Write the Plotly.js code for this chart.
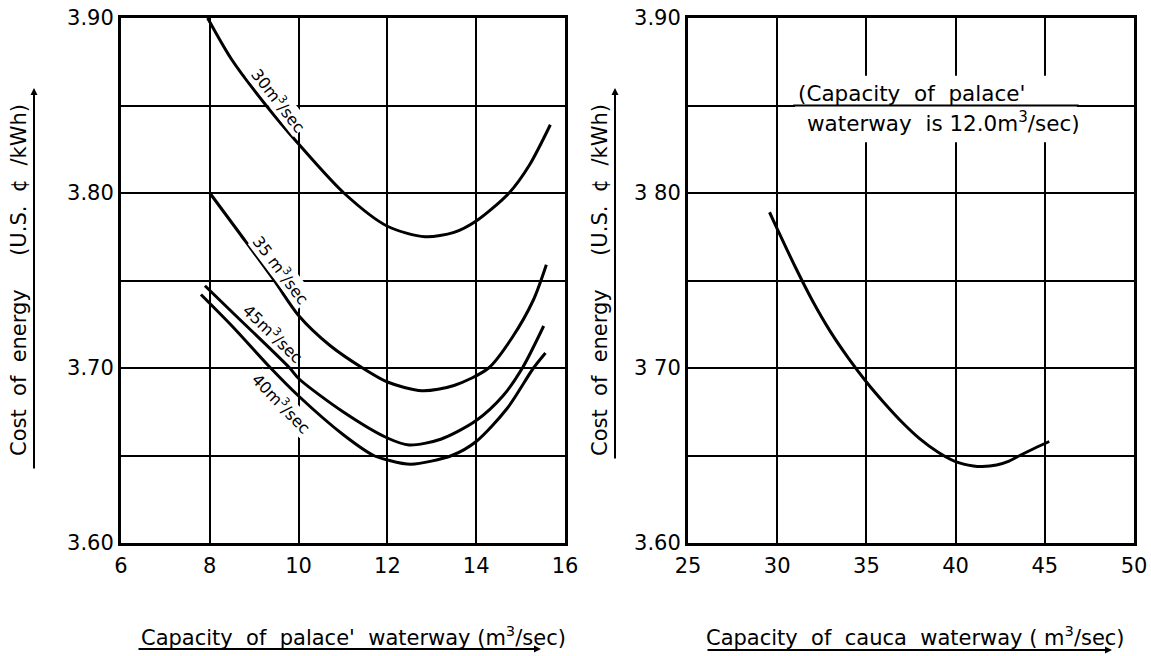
<!DOCTYPE html>
<html>
<head>
<meta charset="utf-8">
<script src="https://cdn.plot.ly/plotly-3.0.1.min.js"></script>
<style>html,body{margin:0;padding:0;background:#fff}#chart{width:1151px;height:656px}</style>
</head>
<body>
<div id="chart"></div>
<script>
// ---- data ----
const q30x = [7.95, 8.5, 9.27, 10, 11.02, 12, 12.85, 13.5, 14, 14.74, 15.2, 15.67];
const q30y = [3.900, 3.876, 3.850, 3.828, 3.800, 3.781, 3.775, 3.7775, 3.784, 3.800, 3.816, 3.839];

const q35x = [8, 8.7, 9.45, 10, 10.7, 11.44, 12, 12.78, 13.5, 14.28, 14.8, 15.29, 15.58];
const q35y = [3.800, 3.776, 3.750, 3.730, 3.713, 3.700, 3.692, 3.687, 3.690, 3.700, 3.717, 3.739, 3.759];

const q45x = [7.89, 8.5, 9.8, 10, 11, 12, 12.49, 13.2, 14, 14.6, 15.04, 15.52];
const q45y = [3.747, 3.732, 3.700, 3.694, 3.675, 3.660, 3.656, 3.6593, 3.670, 3.684, 3.700, 3.724];

const q40x = [7.8, 8.5, 9.37, 10, 11, 11.69, 12, 12.53, 13.45, 14, 14.7, 15.29, 15.56];
const q40y = [3.742, 3.724, 3.700, 3.684, 3.662, 3.650, 3.6475, 3.645, 3.650, 3.658, 3.677, 3.700, 3.7086];

const caucaX = [29.57, 30, 31, 32, 33, 34, 35, 36, 37, 38, 39, 40, 41, 41.5, 42.3, 43, 43.6, 44.4, 45.25];
const caucaY = [3.789, 3.7795, 3.758, 3.738, 3.7205, 3.7055, 3.692, 3.680, 3.669, 3.6595, 3.652, 3.6465, 3.644, 3.6437, 3.6446, 3.6468, 3.650, 3.654, 3.658];

const yTickVals = [3.60, 3.70, 3.80, 3.90];
const yTickTextL = ["3.60", "3.70", "3.80", "3.90"];
const yTickTextR = ["3.60", "3 70", "3 80", "3.90"];
const xTicksL = [6, 8, 10, 12, 14, 16];
const xTicksR = [25, 30, 35, 40, 45, 50];

const curveLabels = [
  {x: 9.55, y: 3.853, text: "30m<sup>3</sup>/sec", angle: 52, bg: true},
  {x: 9.62, y: 3.756, text: "35 m<sup>3</sup>/sec", angle: 53, bg: true},
  {x: 9.42, y: 3.7195, text: "45m<sup>3</sup>/sec", angle: 44, bg: false},
  {x: 9.62, y: 3.680, text: "40m<sup>3</sup>/sec", angle: 46, bg: true}
];

// ---- layout helpers (pixel -> paper) ----
const W = 1151, H = 656;
const px = v => v / W;
const py = v => 1 - v / H;
const FONT = "DejaVu Sans, sans-serif";
const NB = "\u00a0";

const line = {color: "#000", width: 3, shape: "spline", smoothing: 0.8};
const traces = [
  {x: q30x, y: q30y, name: "30 m³/sec", mode: "lines", line: line, xaxis: "x", yaxis: "y"},
  {x: q35x, y: q35y, name: "35 m³/sec", mode: "lines", line: line, xaxis: "x", yaxis: "y"},
  {x: q45x, y: q45y, name: "45 m³/sec", mode: "lines", line: line, xaxis: "x", yaxis: "y"},
  {x: q40x, y: q40y, name: "40 m³/sec", mode: "lines", line: line, xaxis: "x", yaxis: "y"},
  {x: caucaX, y: caucaY, name: "cauca", mode: "lines", line: line, xaxis: "x2", yaxis: "y2"}
];

const axBase = {
  showline: true, linecolor: "#000", linewidth: 3, mirror: true,
  showgrid: true, gridcolor: "#000", gridwidth: 2,
  zeroline: false, ticks: "", fixedrange: true, ticklabeloverflow: "allow"
};
const xTickFont = {family: FONT, size: 21, color: "#000"};
const yTickFont = {family: FONT, size: 21, color: "#000"};
const yMinor = {dtick: 0.05, showgrid: true, gridcolor: "#000", gridwidth: 2, ticks: ""};

const annotations = [];
curveLabels.forEach(c => annotations.push({
  xref: "x", yref: "y", x: c.x, y: c.y, text: c.text, showarrow: false,
  xanchor: "center", yanchor: "middle",
  textangle: c.angle, bgcolor: c.bg ? "#fff" : "rgba(0,0,0,0)", borderpad: 0,
  font: {family: FONT, size: 16, color: "#000"}
}));
const titleFont = {family: FONT, size: 21, color: "#000"};
const yTitle = "Cost" + NB + " of" + NB + " energy" + NB + NB + NB + NB + " (U.S." + NB + " ¢" + NB + " /kWh)";
annotations.push(
  {xref: "x2", yref: "y2", x: 37.5, y: 3.8566, text: "(Capacity" + NB + " of" + NB + " palace'", showarrow: false,
   xanchor: "center", yanchor: "middle", font: {family: FONT, size: 21.5, color: "#000"}},
  {xref: "x2", yref: "y2", x: 39.3, y: 3.8406, text: "waterway" + NB + " is 12.0m<sup>3</sup>/sec)", showarrow: false,
   xanchor: "center", yanchor: "middle", font: {family: FONT, size: 21.5, color: "#000"}},
  // axis titles
  {xref: "paper", yref: "paper", x: px(19), y: py(280), text: yTitle, xanchor: "center", yanchor: "middle",
   textangle: -90, showarrow: false, font: titleFont},
  {xref: "paper", yref: "paper", x: px(600), y: py(280), text: yTitle, xanchor: "center", yanchor: "middle",
   textangle: -90, showarrow: false, font: titleFont},
  {xref: "paper", yref: "paper", x: px(353), y: py(636), xanchor: "center", yanchor: "middle",
   text: "Capacity" + NB + " of" + NB + " palace'" + NB + " waterway (m<sup>3</sup>/sec)",
   showarrow: false, font: titleFont},
  {xref: "paper", yref: "paper", x: px(915), y: py(636), xanchor: "center", yanchor: "middle",
   text: "Capacity" + NB + " of" + NB + " cauca" + NB + " waterway ( m<sup>3</sup>/sec)",
   showarrow: false, font: titleFont},
  // underline arrows
  {xref: "paper", yref: "paper", x: px(34), y: py(88), ax: 0, ay: 382,
   text: "", showarrow: true, arrowhead: 2, arrowsize: 0.7, arrowwidth: 2, arrowcolor: "#000"},
  {xref: "paper", yref: "paper", x: px(615), y: py(88), ax: 0, ay: 372,
   text: "", showarrow: true, arrowhead: 2, arrowsize: 0.7, arrowwidth: 2, arrowcolor: "#000"},
  {xref: "paper", yref: "paper", x: px(541), y: py(649), ax: -404, ay: 0,
   text: "", showarrow: true, arrowhead: 2, arrowsize: 0.7, arrowwidth: 2, arrowcolor: "#000"},
  {xref: "paper", yref: "paper", x: px(1112), y: py(650), ax: -406, ay: 0,
   text: "", showarrow: true, arrowhead: 2, arrowsize: 0.7, arrowwidth: 2, arrowcolor: "#000"}
);

const shapes = [
  // white box behind the note in the right panel (breaks the vertical grid lines)
  {type: "rect", xref: "x2", yref: "y2", x0: 31.0, x1: 46.8, y0: 3.829, y1: 3.867,
   fillcolor: "#fff", line: {width: 0}},
  // the 3.85 grid line stays visible through the note
  {type: "line", xref: "x2", yref: "y2", x0: 30.9, x1: 46.9, y0: 3.85, y1: 3.85,
   line: {color: "#000", width: 2}}
];

const layout = {
  width: W, height: H,
  margin: {l: 0, r: 0, t: 0, b: 0, pad: 0},
  paper_bgcolor: "#fff", plot_bgcolor: "#fff",
  showlegend: false,
  font: {family: FONT, color: "#000"},
  xaxis: Object.assign({}, axBase, {domain: [px(121), px(565)], range: [6, 16],
    tickvals: xTicksL, anchor: "y", tickfont: xTickFont, ticklabelstandoff: 2}),
  yaxis: Object.assign({}, axBase, {domain: [py(543), py(18)], range: [3.60, 3.90],
    tickvals: yTickVals, ticktext: yTickTextL, minor: yMinor, anchor: "x", tickfont: yTickFont}),
  xaxis2: Object.assign({}, axBase, {domain: [px(688), px(1134)], range: [25, 50],
    tickvals: xTicksR, anchor: "y2", tickfont: xTickFont, ticklabelstandoff: 2}),
  yaxis2: Object.assign({}, axBase, {domain: [py(543), py(18)], range: [3.60, 3.90],
    tickvals: yTickVals, ticktext: yTickTextR, minor: yMinor, anchor: "x2", tickfont: yTickFont}),
  shapes: shapes,
  annotations: annotations
};

Plotly.newPlot("chart", traces, layout, {displayModeBar: false, staticPlot: true});
</script>
</body>
</html>
